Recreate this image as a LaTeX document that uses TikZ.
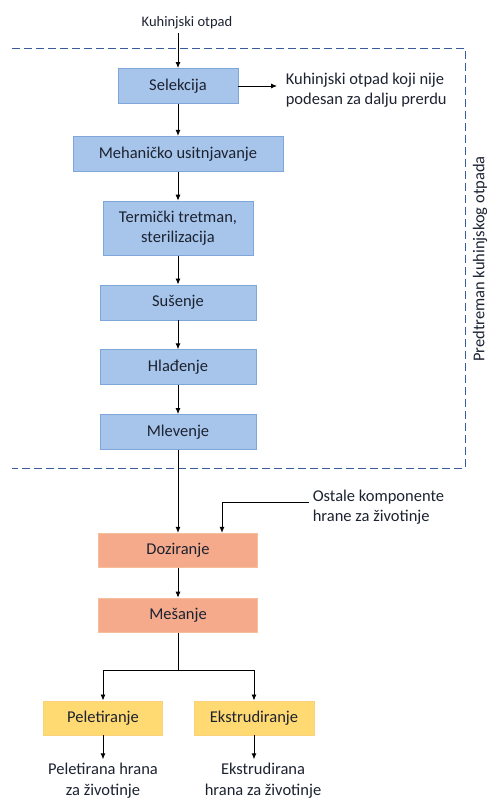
\documentclass[tikz,border=0pt]{standalone}
\usepackage{fontspec}
\setmainfont{Carlito}
\usepackage{tikz}
\usetikzlibrary{arrows.meta, positioning}
\usepackage{xcolor}

\definecolor{boxblue}{HTML}{A7C5EB}
\definecolor{lineblue}{HTML}{7EA6D8}
\definecolor{boxorange}{HTML}{F5AA8C}
\definecolor{lineorange}{HTML}{F7BE9C}
\definecolor{boxyellow}{HTML}{FFD972}
\definecolor{lineyellow}{HTML}{F9D27A}
\definecolor{frameblue}{HTML}{3A5C9A}
\definecolor{textdark}{HTML}{1C2230}

\begin{document}
\begin{tikzpicture}[>={Latex[length=6pt,width=5pt]},node distance=29pt,line width=0.9pt,
  font=\fontsize{16.5}{20.5}\selectfont,text=textdark]
  \tikzstyle{bluebox}=[draw=lineblue,fill=boxblue,minimum height=35pt,align=center,line width=0.8pt]
  \tikzstyle{orangebox}=[draw=lineorange,fill=boxorange,minimum height=34pt,align=center,line width=0.8pt]
  \tikzstyle{yellowbox}=[draw=lineyellow,fill=boxyellow,minimum height=34pt,align=center,line width=0.8pt]

  \useasboundingbox (0,0) rectangle (492pt,-800pt);

  \node[bluebox,minimum width=120pt]   (sel) at (178pt,-86pt)  {Selekcija};
  \node[bluebox,minimum width=210pt]   (meh) [below=32pt of sel] {Mehaničko usitnjavanje};
  \node[bluebox,minimum width=150pt,minimum height=54pt] (term) [below=of meh] {Termički tretman,\\ sterilizacija};
  \node[bluebox,minimum width=156pt]   (sus) [below=of term]   {Sušenje};
  \node[bluebox,minimum width=156pt]   (hla) [below=of sus]    {Hlađenje};
  \node[bluebox,minimum width=156pt]   (mle) [below=of hla]    {Mlevenje};
  \node[orangebox,minimum width=159pt] (doz) [below=83pt of mle] {Doziranje};
  \node[orangebox,minimum width=159pt] (mes) [below=30pt of doz] {Mešanje};
  \coordinate[below=38pt of mes] (split);
  \node[yellowbox,minimum width=119pt] (pel) [below=68pt of mes,xshift=-75pt] {Peletiranje};
  \node[yellowbox,minimum width=120pt] (eks) [below=68pt of mes,xshift=76pt]  {Ekstrudiranje};

  \node (input) at (187pt,-23pt) {\fontsize{14.5}{17}\selectfont Kuhinjski otpad};
  \node[align=left,anchor=west] (reject) at (282pt,-90pt) {Kuhinjski otpad koji nije\\ podesan za dalju prerdu};
  \node[align=left,anchor=west] (ostale) at (309pt,-507pt) {Ostale komponente\\ hrane za životinje};
  \node[align=center] (peltext) [below=24pt of pel] {Peletirana hrana\\ za životinje};
  \node[align=center] (ekstext) [below=24pt of eks,xshift=9pt] {Ekstrudirana\\ hrana za životinje};
  \node[rotate=90] (label) at (480pt,-259pt) {Predtreman kuhinjskog otpada};

  % okvir predtretmana
  \draw[frameblue,dash pattern=on 8pt off 4pt,line width=0.9pt]
    (12pt,-48pt) -- (465pt,-48pt) -- (465pt,-468pt) -- (12pt,-468pt);

  \path[->]
  (input.south -| sel.north) edge (sel.north)
  (sel.east) edge [shorten >=5pt] (sel.east -| reject.west)
  (sel)  edge (meh)
  (meh)  edge (term)
  (term) edge (sus)
  (sus)  edge (hla)
  (hla)  edge (mle)
  (mle)  edge (doz)
  (doz)  edge (mes)
  (pel)  edge (peltext)
  (eks.south) edge (eks.south |- ekstext.north)
  ;
  \draw[->] ([yshift=5pt]ostale.west) -| ([xshift=44pt]doz.north);
  \draw (mes) -- (split);
  \draw[->] (split) -| (pel);
  \draw[->] (split) -| (eks);
\end{tikzpicture}
\end{document}
